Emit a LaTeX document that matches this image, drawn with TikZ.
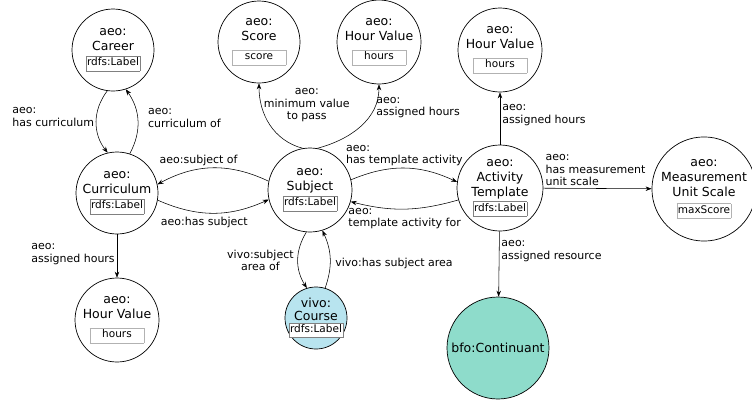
\documentclass[tikz,border=0pt]{standalone}
\usepackage{fontspec}
\setmainfont{DejaVu Sans}
\usetikzlibrary{arrows.meta}
\newcommand{\clsfont}{\fontsize{12.5}{15}\selectfont}
\newcommand{\relfont}{\fontsize{11}{12.5}\selectfont}
\newcommand{\lblbox}[1]{{\setlength{\fboxsep}{0.8pt}\setlength{\fboxrule}{0.5pt}\fcolorbox{black!50}{white}{\fontsize{10.5}{12.5}\selectfont\strut#1}}}
\newcommand{\valbox}[2]{{\setlength{\fboxsep}{0.8pt}\setlength{\fboxrule}{0.5pt}\fcolorbox{black!30}{white}{\makebox[#1]{\fontsize{10.5}{12.5}\selectfont\strut#2}}}}
\definecolor{courseblue}{HTML}{B8E4EF}
\definecolor{bfoteal}{HTML}{8EDCCB}

\begin{document}
\begin{tikzpicture}[x=1pt,y=-1pt,>={Stealth[length=6pt,width=4.5pt]},
  cls/.style={shape=circle,draw=black,line width=0.7pt,inner sep=0pt,align=center,font=\clsfont},
  rel/.style={font=\relfont,align=left,inner sep=2pt},
  every edge/.style={draw,line width=0.55pt}]
\useasboundingbox (0,0) rectangle (752,399);

\node[cls,minimum size=82pt] (career) at (113,50) {aeo:\\Career\\\lblbox{rdfs:Label}};
\node[cls,minimum size=82pt] (score) at (259,42) {aeo:\\Score\\[4pt]\valbox{52pt}{score}};
\node[cls,minimum size=84pt] (hvS) at (379,42) {aeo:\\Hour Value\\[4pt]\valbox{52pt}{hours}};
\node[cls,minimum size=84pt] (hvA) at (500,50) {aeo:\\Hour Value\\[4pt]\valbox{52pt}{hours}};
\node[cls,minimum size=82pt] (curriculum) at (117,193) {aeo:\\Curriculum\\\lblbox{rdfs:Label}};
\node[cls,minimum size=84pt] (subject) at (310,190) {aeo:\\Subject\\\lblbox{rdfs:Label}};
\node[cls,minimum size=86pt] (actTpl) at (500,188) {aeo:\\Activity\\Template\\\lblbox{rdfs:Label}};
\node[cls,minimum size=90pt] (mus) at (704,189) {aeo:\\Measurement\\Unit Scale\\[2pt]\valbox{52pt}{maxScore}};
\node[cls,minimum size=84pt] (hvC) at (117,320) {aeo:\\Hour Value\\[4pt]\valbox{52pt}{hours}};
\node[cls,minimum size=62pt,fill=courseblue,
  label={[align=center,inner sep=0pt,font=\fontsize{12.5}{12.5}\selectfont]center:vivo:\\Course\\\lblbox{rdfs:Label}}] (course) at (316,318) {};
\node[cls,minimum size=102pt,fill=bfoteal] (cont) at (498,348) {bfo:Continuant};

\path [->] (career.262) edge[bend right=38] node[rel,left,yshift=5pt] {aeo:\\has curriculum} (curriculum.103);
\path [->] (curriculum.72) edge[bend right=32] node[rel,right,xshift=8pt,yshift=3pt] {aeo:\\curriculum of} (career.288);
\path [->] (subject.168) edge[bend right=27] node[rel,above,xshift=-14pt] {aeo:subject of} (curriculum.12);
\path [->] (curriculum.350) edge[bend right=24] node[rel,below,xshift=-9pt,yshift=-2pt] {aeo:has subject} (subject.193);
\path [->] (subject.14) edge[bend left=24] node[rel,above] {aeo:\\has template activity} (actTpl.172);
\path [->] (actTpl.196) edge[bend left=15] node[rel,below,yshift=3pt] {aeo:\\template activity for} (subject.344);
\path [->] (subject.100) edge[out=165,in=-90] node[rel,align=center,anchor=west,pos=.75] {aeo:\\minimum value\\to pass} (score.south);
\path [->] (subject.80) edge[out=15,in=-90] node[rel,right,pos=.75] {aeo:\\assigned hours} (hvS.south);
\path [->] (curriculum) edge node[rel,left,pos=.45] {aeo:\\assigned hours} (hvC);
\path [->] (actTpl) edge node[rel,right,pos=.57] {aeo:\\assigned hours} (hvA);
\path [->] (actTpl) edge node[rel,above right,pos=0] {aeo:\\has measurement\\unit scale} (mus);
\path [->] (actTpl) edge node[rel,right,pos=.3] {aeo:\\assigned resource} (cont);
\path [->] (subject.265) edge[bend right=32] node[rel,align=center,left,xshift=-2pt] {vivo:subject\\area of} (course.107);
\path [->] (course.73) edge[bend right=22] node[rel,right,xshift=3pt,yshift=-5pt] {vivo:has subject area} (subject.287);
\end{tikzpicture}
\end{document}
